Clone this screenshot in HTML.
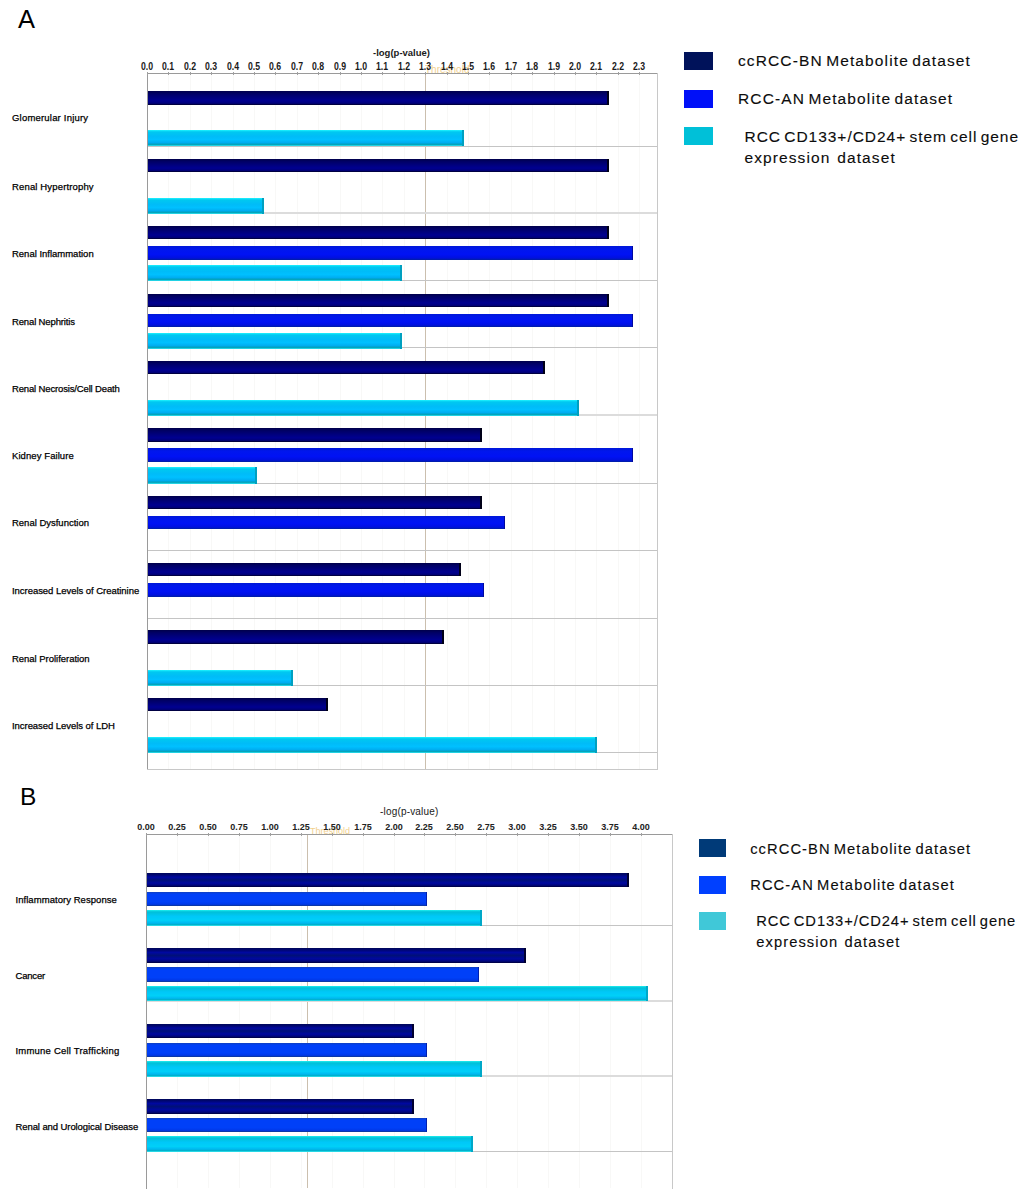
<!DOCTYPE html>
<html><head><meta charset="utf-8"><style>
*{margin:0;padding:0;box-sizing:border-box}
html,body{width:1024px;height:1198px;background:#fff;overflow:hidden;position:relative;font-family:"Liberation Sans", sans-serif;color:#111}
div{white-space:nowrap;line-height:1}
.tkA{font-size:10px;font-weight:bold;color:#1a1a1a;transform:scaleX(0.87)}
.tkB{font-size:9px;font-weight:bold;color:#222;}
.lbA{font-size:9.5px;font-weight:normal;color:#000;-webkit-text-stroke:0.25px #000}
.lbB{font-size:9.5px;font-weight:normal;color:#000;-webkit-text-stroke:0.25px #000}
.ttA{font-size:9.5px;font-weight:bold;color:#1a1a1a}
.ttB{font-size:10px;color:#1a1a1a;letter-spacing:0.18px}
.thA{font-size:10px;color:#ecb850;opacity:0.65}
.thB{font-size:9px;color:#ecb850;opacity:0.65}
.big{color:#000;font-weight:normal}
.lg{color:#0c0c0c;-webkit-text-stroke:0.12px #0c0c0c}
</style></head><body>
<div style="position:absolute;left:0;top:0;width:1024px;height:1198px;">
<div style="position:absolute;left:168px;top:74px;width:1px;height:695px;background:#f8f8f7"></div>
<div style="position:absolute;left:190px;top:74px;width:1px;height:695px;background:#f8f8f7"></div>
<div style="position:absolute;left:211px;top:74px;width:1px;height:695px;background:#f8f8f7"></div>
<div style="position:absolute;left:233px;top:74px;width:1px;height:695px;background:#f8f8f7"></div>
<div style="position:absolute;left:254px;top:74px;width:1px;height:695px;background:#f8f8f7"></div>
<div style="position:absolute;left:275px;top:74px;width:1px;height:695px;background:#f8f8f7"></div>
<div style="position:absolute;left:297px;top:74px;width:1px;height:695px;background:#f8f8f7"></div>
<div style="position:absolute;left:318px;top:74px;width:1px;height:695px;background:#f8f8f7"></div>
<div style="position:absolute;left:340px;top:74px;width:1px;height:695px;background:#f8f8f7"></div>
<div style="position:absolute;left:361px;top:74px;width:1px;height:695px;background:#f8f8f7"></div>
<div style="position:absolute;left:382px;top:74px;width:1px;height:695px;background:#f8f8f7"></div>
<div style="position:absolute;left:404px;top:74px;width:1px;height:695px;background:#f8f8f7"></div>
<div style="position:absolute;left:425px;top:74px;width:1px;height:695px;background:#f8f8f7"></div>
<div style="position:absolute;left:447px;top:74px;width:1px;height:695px;background:#f8f8f7"></div>
<div style="position:absolute;left:468px;top:74px;width:1px;height:695px;background:#f8f8f7"></div>
<div style="position:absolute;left:489px;top:74px;width:1px;height:695px;background:#f8f8f7"></div>
<div style="position:absolute;left:511px;top:74px;width:1px;height:695px;background:#f8f8f7"></div>
<div style="position:absolute;left:532px;top:74px;width:1px;height:695px;background:#f8f8f7"></div>
<div style="position:absolute;left:554px;top:74px;width:1px;height:695px;background:#f8f8f7"></div>
<div style="position:absolute;left:575px;top:74px;width:1px;height:695px;background:#f8f8f7"></div>
<div style="position:absolute;left:596px;top:74px;width:1px;height:695px;background:#f8f8f7"></div>
<div style="position:absolute;left:618px;top:74px;width:1px;height:695px;background:#f8f8f7"></div>
<div style="position:absolute;left:639px;top:74px;width:1px;height:695px;background:#f8f8f7"></div>
<div style="position:absolute;left:425px;top:74px;width:1px;height:695px;background:#cbbfae"></div>
<div style="position:absolute;left:147px;top:146px;width:510px;height:1px;background:#c4c4c4"></div>
<div style="position:absolute;left:147px;top:212px;width:510px;height:2px;background:#dcdcdc"></div>
<div style="position:absolute;left:147px;top:280px;width:510px;height:1px;background:#c4c4c4"></div>
<div style="position:absolute;left:147px;top:347px;width:510px;height:1px;background:#c4c4c4"></div>
<div style="position:absolute;left:147px;top:414px;width:510px;height:2px;background:#dcdcdc"></div>
<div style="position:absolute;left:147px;top:483px;width:510px;height:1px;background:#c4c4c4"></div>
<div style="position:absolute;left:147px;top:550px;width:510px;height:1px;background:#c4c4c4"></div>
<div style="position:absolute;left:147px;top:618px;width:510px;height:1px;background:#c4c4c4"></div>
<div style="position:absolute;left:147px;top:685px;width:510px;height:1px;background:#c4c4c4"></div>
<div style="position:absolute;left:147px;top:752px;width:510px;height:1px;background:#c4c4c4"></div>
<div style="position:absolute;left:147px;top:91px;width:462px;height:14px;background:linear-gradient(#00004a 0%,#000066 20%,#00007c 45%,#000090 70%,#00007a 88%,#000028 100%);box-shadow:inset -2px 0 0 #000018"></div>
<div style="position:absolute;left:147px;top:130px;width:317px;height:16px;background:linear-gradient(#20f4ff 0%,#00c8f0 12%,#00bcf8 40%,#00c0ff 60%,#00acf0 80%,#00a0b8 90%,#30e8f8 100%);box-shadow:inset -2px 0 0 #00a0c0"></div>
<div style="position:absolute;left:147px;top:159px;width:462px;height:13px;background:linear-gradient(#00004a 0%,#000066 20%,#00007c 45%,#000090 70%,#00007a 88%,#000028 100%);box-shadow:inset -2px 0 0 #000018"></div>
<div style="position:absolute;left:147px;top:198px;width:117px;height:16px;background:linear-gradient(#20f4ff 0%,#00c8f0 12%,#00bcf8 40%,#00c0ff 60%,#00acf0 80%,#00a0b8 90%,#30e8f8 100%);box-shadow:inset -2px 0 0 #00a0c0"></div>
<div style="position:absolute;left:147px;top:226px;width:462px;height:13px;background:linear-gradient(#00004a 0%,#000066 20%,#00007c 45%,#000090 70%,#00007a 88%,#000028 100%);box-shadow:inset -2px 0 0 #000018"></div>
<div style="position:absolute;left:147px;top:246px;width:486px;height:14px;background:linear-gradient(#0018d8 0%,#0016ee 25%,#0012f4 60%,#0010e0 85%,#0020a0 100%);box-shadow:inset -1px 0 0 #0008a0"></div>
<div style="position:absolute;left:147px;top:265px;width:255px;height:16px;background:linear-gradient(#20f4ff 0%,#00c8f0 12%,#00bcf8 40%,#00c0ff 60%,#00acf0 80%,#00a0b8 90%,#30e8f8 100%);box-shadow:inset -2px 0 0 #00a0c0"></div>
<div style="position:absolute;left:147px;top:294px;width:462px;height:13px;background:linear-gradient(#00004a 0%,#000066 20%,#00007c 45%,#000090 70%,#00007a 88%,#000028 100%);box-shadow:inset -2px 0 0 #000018"></div>
<div style="position:absolute;left:147px;top:314px;width:486px;height:13px;background:linear-gradient(#0018d8 0%,#0016ee 25%,#0012f4 60%,#0010e0 85%,#0020a0 100%);box-shadow:inset -1px 0 0 #0008a0"></div>
<div style="position:absolute;left:147px;top:333px;width:255px;height:16px;background:linear-gradient(#20f4ff 0%,#00c8f0 12%,#00bcf8 40%,#00c0ff 60%,#00acf0 80%,#00a0b8 90%,#30e8f8 100%);box-shadow:inset -2px 0 0 #00a0c0"></div>
<div style="position:absolute;left:147px;top:361px;width:398px;height:13px;background:linear-gradient(#00004a 0%,#000066 20%,#00007c 45%,#000090 70%,#00007a 88%,#000028 100%);box-shadow:inset -2px 0 0 #000018"></div>
<div style="position:absolute;left:147px;top:400px;width:432px;height:16px;background:linear-gradient(#20f4ff 0%,#00c8f0 12%,#00bcf8 40%,#00c0ff 60%,#00acf0 80%,#00a0b8 90%,#30e8f8 100%);box-shadow:inset -2px 0 0 #00a0c0"></div>
<div style="position:absolute;left:147px;top:428px;width:335px;height:14px;background:linear-gradient(#00004a 0%,#000066 20%,#00007c 45%,#000090 70%,#00007a 88%,#000028 100%);box-shadow:inset -2px 0 0 #000018"></div>
<div style="position:absolute;left:147px;top:448px;width:486px;height:14px;background:linear-gradient(#0018d8 0%,#0016ee 25%,#0012f4 60%,#0010e0 85%,#0020a0 100%);box-shadow:inset -1px 0 0 #0008a0"></div>
<div style="position:absolute;left:147px;top:467px;width:110px;height:17px;background:linear-gradient(#20f4ff 0%,#00c8f0 12%,#00bcf8 40%,#00c0ff 60%,#00acf0 80%,#00a0b8 90%,#30e8f8 100%);box-shadow:inset -2px 0 0 #00a0c0"></div>
<div style="position:absolute;left:147px;top:496px;width:335px;height:13px;background:linear-gradient(#00004a 0%,#000066 20%,#00007c 45%,#000090 70%,#00007a 88%,#000028 100%);box-shadow:inset -2px 0 0 #000018"></div>
<div style="position:absolute;left:147px;top:516px;width:358px;height:13px;background:linear-gradient(#0018d8 0%,#0016ee 25%,#0012f4 60%,#0010e0 85%,#0020a0 100%);box-shadow:inset -1px 0 0 #0008a0"></div>
<div style="position:absolute;left:147px;top:563px;width:314px;height:13px;background:linear-gradient(#00004a 0%,#000066 20%,#00007c 45%,#000090 70%,#00007a 88%,#000028 100%);box-shadow:inset -2px 0 0 #000018"></div>
<div style="position:absolute;left:147px;top:583px;width:337px;height:14px;background:linear-gradient(#0018d8 0%,#0016ee 25%,#0012f4 60%,#0010e0 85%,#0020a0 100%);box-shadow:inset -1px 0 0 #0008a0"></div>
<div style="position:absolute;left:147px;top:630px;width:297px;height:14px;background:linear-gradient(#00004a 0%,#000066 20%,#00007c 45%,#000090 70%,#00007a 88%,#000028 100%);box-shadow:inset -2px 0 0 #000018"></div>
<div style="position:absolute;left:147px;top:670px;width:146px;height:16px;background:linear-gradient(#20f4ff 0%,#00c8f0 12%,#00bcf8 40%,#00c0ff 60%,#00acf0 80%,#00a0b8 90%,#30e8f8 100%);box-shadow:inset -2px 0 0 #00a0c0"></div>
<div style="position:absolute;left:147px;top:698px;width:181px;height:13px;background:linear-gradient(#00004a 0%,#000066 20%,#00007c 45%,#000090 70%,#00007a 88%,#000028 100%);box-shadow:inset -2px 0 0 #000018"></div>
<div style="position:absolute;left:147px;top:737px;width:450px;height:16px;background:linear-gradient(#20f4ff 0%,#00c8f0 12%,#00bcf8 40%,#00c0ff 60%,#00acf0 80%,#00a0b8 90%,#30e8f8 100%);box-shadow:inset -2px 0 0 #00a0c0"></div>
<div style="position:absolute;left:147px;top:73px;width:1px;height:697px;background:#9a9a9a"></div>
<div style="position:absolute;left:147px;top:73px;width:511px;height:1px;background:#9a9a9a"></div>
<div style="position:absolute;left:657px;top:73px;width:1px;height:697px;background:#c8c8c8"></div>
<div style="position:absolute;left:147px;top:769px;width:511px;height:1px;background:#c8c8c8"></div>
<div class="thA" style="position:absolute;left:425px;top:65px;">Threshold</div>
<div style="position:absolute;left:147px;top:72px;width:1px;height:3px;background:#a0a0a0"></div>
<div class="tkA" style="position:absolute;left:127px;top:61.6px;width:40px;text-align:center;">0.0</div>
<div style="position:absolute;left:168px;top:72px;width:1px;height:3px;background:#a0a0a0"></div>
<div class="tkA" style="position:absolute;left:148px;top:61.6px;width:40px;text-align:center;">0.1</div>
<div style="position:absolute;left:190px;top:72px;width:1px;height:3px;background:#a0a0a0"></div>
<div class="tkA" style="position:absolute;left:170px;top:61.6px;width:40px;text-align:center;">0.2</div>
<div style="position:absolute;left:211px;top:72px;width:1px;height:3px;background:#a0a0a0"></div>
<div class="tkA" style="position:absolute;left:191px;top:61.6px;width:40px;text-align:center;">0.3</div>
<div style="position:absolute;left:233px;top:72px;width:1px;height:3px;background:#a0a0a0"></div>
<div class="tkA" style="position:absolute;left:213px;top:61.6px;width:40px;text-align:center;">0.4</div>
<div style="position:absolute;left:254px;top:72px;width:1px;height:3px;background:#a0a0a0"></div>
<div class="tkA" style="position:absolute;left:234px;top:61.6px;width:40px;text-align:center;">0.5</div>
<div style="position:absolute;left:275px;top:72px;width:1px;height:3px;background:#a0a0a0"></div>
<div class="tkA" style="position:absolute;left:255px;top:61.6px;width:40px;text-align:center;">0.6</div>
<div style="position:absolute;left:297px;top:72px;width:1px;height:3px;background:#a0a0a0"></div>
<div class="tkA" style="position:absolute;left:277px;top:61.6px;width:40px;text-align:center;">0.7</div>
<div style="position:absolute;left:318px;top:72px;width:1px;height:3px;background:#a0a0a0"></div>
<div class="tkA" style="position:absolute;left:298px;top:61.6px;width:40px;text-align:center;">0.8</div>
<div style="position:absolute;left:340px;top:72px;width:1px;height:3px;background:#a0a0a0"></div>
<div class="tkA" style="position:absolute;left:320px;top:61.6px;width:40px;text-align:center;">0.9</div>
<div style="position:absolute;left:361px;top:72px;width:1px;height:3px;background:#a0a0a0"></div>
<div class="tkA" style="position:absolute;left:341px;top:61.6px;width:40px;text-align:center;">1.0</div>
<div style="position:absolute;left:382px;top:72px;width:1px;height:3px;background:#a0a0a0"></div>
<div class="tkA" style="position:absolute;left:362px;top:61.6px;width:40px;text-align:center;">1.1</div>
<div style="position:absolute;left:404px;top:72px;width:1px;height:3px;background:#a0a0a0"></div>
<div class="tkA" style="position:absolute;left:384px;top:61.6px;width:40px;text-align:center;">1.2</div>
<div style="position:absolute;left:425px;top:72px;width:1px;height:3px;background:#a0a0a0"></div>
<div class="tkA" style="position:absolute;left:405px;top:61.6px;width:40px;text-align:center;">1.3</div>
<div style="position:absolute;left:447px;top:72px;width:1px;height:3px;background:#a0a0a0"></div>
<div class="tkA" style="position:absolute;left:427px;top:61.6px;width:40px;text-align:center;">1.4</div>
<div style="position:absolute;left:468px;top:72px;width:1px;height:3px;background:#a0a0a0"></div>
<div class="tkA" style="position:absolute;left:448px;top:61.6px;width:40px;text-align:center;">1.5</div>
<div style="position:absolute;left:489px;top:72px;width:1px;height:3px;background:#a0a0a0"></div>
<div class="tkA" style="position:absolute;left:469px;top:61.6px;width:40px;text-align:center;">1.6</div>
<div style="position:absolute;left:511px;top:72px;width:1px;height:3px;background:#a0a0a0"></div>
<div class="tkA" style="position:absolute;left:491px;top:61.6px;width:40px;text-align:center;">1.7</div>
<div style="position:absolute;left:532px;top:72px;width:1px;height:3px;background:#a0a0a0"></div>
<div class="tkA" style="position:absolute;left:512px;top:61.6px;width:40px;text-align:center;">1.8</div>
<div style="position:absolute;left:554px;top:72px;width:1px;height:3px;background:#a0a0a0"></div>
<div class="tkA" style="position:absolute;left:534px;top:61.6px;width:40px;text-align:center;">1.9</div>
<div style="position:absolute;left:575px;top:72px;width:1px;height:3px;background:#a0a0a0"></div>
<div class="tkA" style="position:absolute;left:555px;top:61.6px;width:40px;text-align:center;">2.0</div>
<div style="position:absolute;left:596px;top:72px;width:1px;height:3px;background:#a0a0a0"></div>
<div class="tkA" style="position:absolute;left:576px;top:61.6px;width:40px;text-align:center;">2.1</div>
<div style="position:absolute;left:618px;top:72px;width:1px;height:3px;background:#a0a0a0"></div>
<div class="tkA" style="position:absolute;left:598px;top:61.6px;width:40px;text-align:center;">2.2</div>
<div style="position:absolute;left:639px;top:72px;width:1px;height:3px;background:#a0a0a0"></div>
<div class="tkA" style="position:absolute;left:619px;top:61.6px;width:40px;text-align:center;">2.3</div>
<div class="lbA" style="position:absolute;left:12px;top:113.2px;letter-spacing:0.2px;">Glomerular Injury</div>
<div class="lbA" style="position:absolute;left:12px;top:182px;letter-spacing:0.15px;">Renal Hypertrophy</div>
<div class="lbA" style="position:absolute;left:12px;top:249px;letter-spacing:-0.01px;">Renal Inflammation</div>
<div class="lbA" style="position:absolute;left:12px;top:316.8px;letter-spacing:-0.14px;">Renal Nephritis</div>
<div class="lbA" style="position:absolute;left:12px;top:383.6px;letter-spacing:-0.15px;">Renal Necrosis/Cell Death</div>
<div class="lbA" style="position:absolute;left:12px;top:451.2px;letter-spacing:0.08px;">Kidney Failure</div>
<div class="lbA" style="position:absolute;left:12px;top:518.4px;letter-spacing:-0.01px;">Renal Dysfunction</div>
<div class="lbA" style="position:absolute;left:12px;top:585.5px;letter-spacing:-0.04px;">Increased Levels of Creatinine</div>
<div class="lbA" style="position:absolute;left:12px;top:653.6px;letter-spacing:-0.03px;">Renal Proliferation</div>
<div class="lbA" style="position:absolute;left:12px;top:721.3px;letter-spacing:-0.05px;">Increased Levels of LDH</div>
<div class="ttA" style="position:absolute;left:373px;top:47.5px;">-log(p-value)</div>
<div style="position:absolute;left:177px;top:835px;width:1px;height:353px;background:#f8f8f7"></div>
<div style="position:absolute;left:208px;top:835px;width:1px;height:353px;background:#f8f8f7"></div>
<div style="position:absolute;left:239px;top:835px;width:1px;height:353px;background:#f8f8f7"></div>
<div style="position:absolute;left:270px;top:835px;width:1px;height:353px;background:#f8f8f7"></div>
<div style="position:absolute;left:301px;top:835px;width:1px;height:353px;background:#f8f8f7"></div>
<div style="position:absolute;left:332px;top:835px;width:1px;height:353px;background:#f8f8f7"></div>
<div style="position:absolute;left:363px;top:835px;width:1px;height:353px;background:#f8f8f7"></div>
<div style="position:absolute;left:394px;top:835px;width:1px;height:353px;background:#f8f8f7"></div>
<div style="position:absolute;left:424px;top:835px;width:1px;height:353px;background:#f8f8f7"></div>
<div style="position:absolute;left:455px;top:835px;width:1px;height:353px;background:#f8f8f7"></div>
<div style="position:absolute;left:486px;top:835px;width:1px;height:353px;background:#f8f8f7"></div>
<div style="position:absolute;left:517px;top:835px;width:1px;height:353px;background:#f8f8f7"></div>
<div style="position:absolute;left:548px;top:835px;width:1px;height:353px;background:#f8f8f7"></div>
<div style="position:absolute;left:579px;top:835px;width:1px;height:353px;background:#f8f8f7"></div>
<div style="position:absolute;left:610px;top:835px;width:1px;height:353px;background:#f8f8f7"></div>
<div style="position:absolute;left:641px;top:835px;width:1px;height:353px;background:#f8f8f7"></div>
<div style="position:absolute;left:307px;top:835px;width:1px;height:353px;background:#cbbfae"></div>
<div style="position:absolute;left:146px;top:925px;width:526px;height:1px;background:#c4c4c4"></div>
<div style="position:absolute;left:146px;top:1000px;width:526px;height:2px;background:#dcdcdc"></div>
<div style="position:absolute;left:146px;top:1075px;width:526px;height:2px;background:#dcdcdc"></div>
<div style="position:absolute;left:146px;top:1151px;width:526px;height:1px;background:#c4c4c4"></div>
<div style="position:absolute;left:146px;top:873px;width:483px;height:14px;background:linear-gradient(#00085a 0%,#00066e 12%,#0008a0 30%,#001078 50%,#0008a0 72%,#00067a 88%,#00003a 100%);box-shadow:inset -2px 0 0 #000030"></div>
<div style="position:absolute;left:146px;top:892px;width:281px;height:14px;background:linear-gradient(#1040c0 0%,#0040f8 15%,#0040f8 70%,#0038e8 88%,#103890 100%);box-shadow:inset -1px 0 0 #0020b0"></div>
<div style="position:absolute;left:146px;top:910px;width:336px;height:16px;background:linear-gradient(#20f0f0 0%,#00c0d8 12%,#00c8f8 40%,#00d0f8 65%,#00b8f0 82%,#00b0c8 92%,#40f0f8 100%);box-shadow:inset -2px 0 0 #00a8c8"></div>
<div style="position:absolute;left:146px;top:948px;width:380px;height:15px;background:linear-gradient(#00085a 0%,#00066e 12%,#0008a0 30%,#001078 50%,#0008a0 72%,#00067a 88%,#00003a 100%);box-shadow:inset -2px 0 0 #000030"></div>
<div style="position:absolute;left:146px;top:967px;width:333px;height:15px;background:linear-gradient(#1040c0 0%,#0040f8 15%,#0040f8 70%,#0038e8 88%,#103890 100%);box-shadow:inset -1px 0 0 #0020b0"></div>
<div style="position:absolute;left:146px;top:986px;width:502px;height:15px;background:linear-gradient(#20f0f0 0%,#00c0d8 12%,#00c8f8 40%,#00d0f8 65%,#00b8f0 82%,#00b0c8 92%,#40f0f8 100%);box-shadow:inset -2px 0 0 #00a8c8"></div>
<div style="position:absolute;left:146px;top:1024px;width:268px;height:14px;background:linear-gradient(#00085a 0%,#00066e 12%,#0008a0 30%,#001078 50%,#0008a0 72%,#00067a 88%,#00003a 100%);box-shadow:inset -2px 0 0 #000030"></div>
<div style="position:absolute;left:146px;top:1043px;width:281px;height:14px;background:linear-gradient(#1040c0 0%,#0040f8 15%,#0040f8 70%,#0038e8 88%,#103890 100%);box-shadow:inset -1px 0 0 #0020b0"></div>
<div style="position:absolute;left:146px;top:1061px;width:336px;height:16px;background:linear-gradient(#20f0f0 0%,#00c0d8 12%,#00c8f8 40%,#00d0f8 65%,#00b8f0 82%,#00b0c8 92%,#40f0f8 100%);box-shadow:inset -2px 0 0 #00a8c8"></div>
<div style="position:absolute;left:146px;top:1099px;width:268px;height:15px;background:linear-gradient(#00085a 0%,#00066e 12%,#0008a0 30%,#001078 50%,#0008a0 72%,#00067a 88%,#00003a 100%);box-shadow:inset -2px 0 0 #000030"></div>
<div style="position:absolute;left:146px;top:1118px;width:281px;height:14px;background:linear-gradient(#1040c0 0%,#0040f8 15%,#0040f8 70%,#0038e8 88%,#103890 100%);box-shadow:inset -1px 0 0 #0020b0"></div>
<div style="position:absolute;left:146px;top:1136px;width:327px;height:16px;background:linear-gradient(#20f0f0 0%,#00c0d8 12%,#00c8f8 40%,#00d0f8 65%,#00b8f0 82%,#00b0c8 92%,#40f0f8 100%);box-shadow:inset -2px 0 0 #00a8c8"></div>
<div style="position:absolute;left:146px;top:834px;width:1px;height:355px;background:#9a9a9a"></div>
<div style="position:absolute;left:146px;top:834px;width:527px;height:1px;background:#9a9a9a"></div>
<div style="position:absolute;left:672px;top:834px;width:1px;height:355px;background:#c8c8c8"></div>
<div class="thB" style="position:absolute;left:310px;top:827px;">Threshold</div>
<div style="position:absolute;left:146px;top:833px;width:1px;height:3px;background:#a0a0a0"></div>
<div class="tkB" style="position:absolute;left:126px;top:822.5px;width:40px;text-align:center;">0.00</div>
<div style="position:absolute;left:177px;top:833px;width:1px;height:3px;background:#a0a0a0"></div>
<div class="tkB" style="position:absolute;left:157px;top:822.5px;width:40px;text-align:center;">0.25</div>
<div style="position:absolute;left:208px;top:833px;width:1px;height:3px;background:#a0a0a0"></div>
<div class="tkB" style="position:absolute;left:188px;top:822.5px;width:40px;text-align:center;">0.50</div>
<div style="position:absolute;left:239px;top:833px;width:1px;height:3px;background:#a0a0a0"></div>
<div class="tkB" style="position:absolute;left:219px;top:822.5px;width:40px;text-align:center;">0.75</div>
<div style="position:absolute;left:270px;top:833px;width:1px;height:3px;background:#a0a0a0"></div>
<div class="tkB" style="position:absolute;left:250px;top:822.5px;width:40px;text-align:center;">1.00</div>
<div style="position:absolute;left:301px;top:833px;width:1px;height:3px;background:#a0a0a0"></div>
<div class="tkB" style="position:absolute;left:281px;top:822.5px;width:40px;text-align:center;">1.25</div>
<div style="position:absolute;left:332px;top:833px;width:1px;height:3px;background:#a0a0a0"></div>
<div class="tkB" style="position:absolute;left:312px;top:822.5px;width:40px;text-align:center;">1.50</div>
<div style="position:absolute;left:363px;top:833px;width:1px;height:3px;background:#a0a0a0"></div>
<div class="tkB" style="position:absolute;left:343px;top:822.5px;width:40px;text-align:center;">1.75</div>
<div style="position:absolute;left:394px;top:833px;width:1px;height:3px;background:#a0a0a0"></div>
<div class="tkB" style="position:absolute;left:374px;top:822.5px;width:40px;text-align:center;">2.00</div>
<div style="position:absolute;left:424px;top:833px;width:1px;height:3px;background:#a0a0a0"></div>
<div class="tkB" style="position:absolute;left:404px;top:822.5px;width:40px;text-align:center;">2.25</div>
<div style="position:absolute;left:455px;top:833px;width:1px;height:3px;background:#a0a0a0"></div>
<div class="tkB" style="position:absolute;left:435px;top:822.5px;width:40px;text-align:center;">2.50</div>
<div style="position:absolute;left:486px;top:833px;width:1px;height:3px;background:#a0a0a0"></div>
<div class="tkB" style="position:absolute;left:466px;top:822.5px;width:40px;text-align:center;">2.75</div>
<div style="position:absolute;left:517px;top:833px;width:1px;height:3px;background:#a0a0a0"></div>
<div class="tkB" style="position:absolute;left:497px;top:822.5px;width:40px;text-align:center;">3.00</div>
<div style="position:absolute;left:548px;top:833px;width:1px;height:3px;background:#a0a0a0"></div>
<div class="tkB" style="position:absolute;left:528px;top:822.5px;width:40px;text-align:center;">3.25</div>
<div style="position:absolute;left:579px;top:833px;width:1px;height:3px;background:#a0a0a0"></div>
<div class="tkB" style="position:absolute;left:559px;top:822.5px;width:40px;text-align:center;">3.50</div>
<div style="position:absolute;left:610px;top:833px;width:1px;height:3px;background:#a0a0a0"></div>
<div class="tkB" style="position:absolute;left:590px;top:822.5px;width:40px;text-align:center;">3.75</div>
<div style="position:absolute;left:641px;top:833px;width:1px;height:3px;background:#a0a0a0"></div>
<div class="tkB" style="position:absolute;left:621px;top:822.5px;width:40px;text-align:center;">4.00</div>
<div class="lbB" style="position:absolute;left:15.5px;top:895.2px;letter-spacing:0.05px;">Inflammatory Response</div>
<div class="lbB" style="position:absolute;left:15.5px;top:971px;letter-spacing:-0.2px;">Cancer</div>
<div class="lbB" style="position:absolute;left:15.5px;top:1046.2px;letter-spacing:0.21px;">Immune Cell Trafficking</div>
<div class="lbB" style="position:absolute;left:15.5px;top:1121.5px;letter-spacing:-0.09px;">Renal and Urological Disease</div>
<div class="ttB" style="position:absolute;left:380px;top:806.5px;">-log(p-value)</div>
<div class="big" style="position:absolute;left:18px;top:6.5px;font-size:25.5px;">A</div>
<div class="big" style="position:absolute;left:20px;top:785px;font-size:24.5px;">B</div>
<div style="position:absolute;left:684px;top:52px;width:29px;height:18.3px;background:#00125a"></div>
<div style="position:absolute;left:684px;top:89.6px;width:29px;height:18.3px;background:#0010f8"></div>
<div style="position:absolute;left:684px;top:127.1px;width:29px;height:18.3px;background:#00c0d8"></div>
<div class="lg" style="position:absolute;left:738px;top:53.3px;font-size:15.5px;letter-spacing:1.12px;word-spacing:-2px;">ccRCC-BN Metabolite dataset</div>
<div class="lg" style="position:absolute;left:738px;top:90.6px;font-size:15.5px;letter-spacing:1.12px;word-spacing:-2px;">RCC-AN Metabolite dataset</div>
<div class="lg" style="position:absolute;left:744.5px;top:128.5px;font-size:15.5px;letter-spacing:0.97px;word-spacing:-2px;">RCC CD133+/CD24+ stem cell gene</div>
<div class="lg" style="position:absolute;left:744.5px;top:149.5px;font-size:15.5px;letter-spacing:1.1px;word-spacing:-2px;">expression&nbsp;&nbsp;dataset</div>
<div style="position:absolute;left:699px;top:838.9px;width:27.2px;height:18.1px;background:#003a78"></div>
<div style="position:absolute;left:699px;top:875.5px;width:27.2px;height:18.1px;background:#0040ff"></div>
<div style="position:absolute;left:699px;top:912.3px;width:27.2px;height:18.1px;background:#40c8d8"></div>
<div class="lg" style="position:absolute;left:750.2px;top:841.5px;font-size:14.7px;letter-spacing:1.08px;word-spacing:-2px;">ccRCC-BN Metabolite dataset</div>
<div class="lg" style="position:absolute;left:750.2px;top:877.5px;font-size:14.7px;letter-spacing:1.1px;word-spacing:-2px;">RCC-AN Metabolite dataset</div>
<div class="lg" style="position:absolute;left:756.2px;top:914.4px;font-size:14.7px;letter-spacing:0.93px;word-spacing:-2px;">RCC CD133+/CD24+ stem cell gene</div>
<div class="lg" style="position:absolute;left:756.2px;top:935px;font-size:14.7px;letter-spacing:1.1px;word-spacing:-2px;">expression&nbsp;&nbsp;dataset</div>
</div>
</body></html>
